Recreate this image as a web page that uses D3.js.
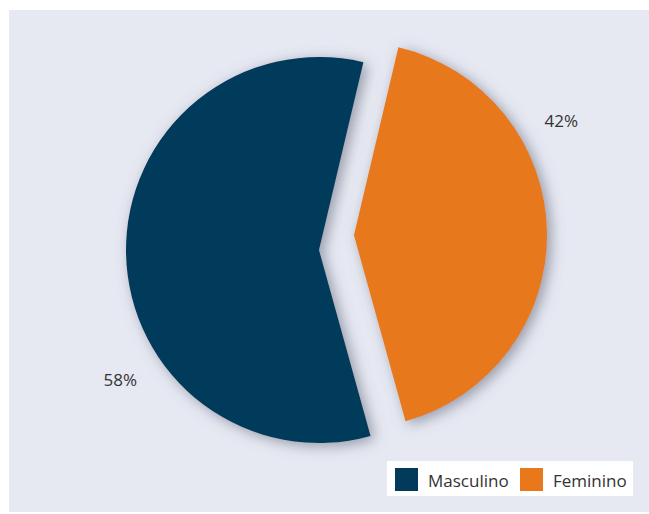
<!DOCTYPE html>
<html>
<head>
<meta charset="utf-8">
<script src="https://cdn.jsdelivr.net/npm/d3@7"></script>
<style>
  html, body { margin: 0; padding: 0; background: #ffffff; }
  svg { display: block; }
</style>
</head>
<body>
<script>
// Gender split
const categories = ["Masculino", "Feminino"];
const values = [58, 42];
const valueLabels = ["58%", "42%"];
const colors = ["#023a5b", "#e8781a"];

const W = 649, H = 514;
const svg = d3.select("body").append("svg").attr("width", W).attr("height", H);

// Panel background
svg.append("rect")
  .attr("x", 9).attr("y", 10)
  .attr("width", W - 9).attr("height", H - 12)
  .attr("fill", "#e6e9f2");

// Soft shadow under the slices
const defs = svg.append("defs");
const f = defs.append("filter").attr("id", "shadow")
  .attr("x", "-20%").attr("y", "-20%").attr("width", "140%").attr("height", "140%");
f.append("feDropShadow")
  .attr("dx", 4).attr("dy", 3).attr("stdDeviation", 7)
  .attr("flood-color", "#5d6274").attr("flood-opacity", 0.6);

const cx = 319, cy = 250, radius = 193;
const explode = [0, 38];                  // px pulled out per slice
const explodeAngle = 67 * Math.PI / 180;  // direction of pull (0 = up, clockwise)
const offset = i => [Math.sin(explodeAngle) * explode[i], -Math.cos(explodeAngle) * explode[i]];

const pie = d3.pie().sort(null)
  .startAngle(164.5 * Math.PI / 180)
  .endAngle((164.5 + 360) * Math.PI / 180);
const arcs = pie(values);
const arc = d3.arc().innerRadius(0).outerRadius(radius);

const g = svg.append("g").attr("transform", `translate(${cx},${cy})`);

g.selectAll("path.slice")
  .data(arcs)
  .join("path")
  .attr("class", "slice")
  .attr("d", arc)
  .attr("fill", (d, i) => colors[i])
  .attr("filter", "url(#shadow)")
  .attr("transform", (d, i) => `translate(${offset(i)[0]},${offset(i)[1]})`);

// Percentage labels placed outside the slices
const labelRadius = 237;
const labelAngles = [237 * Math.PI / 180, 61 * Math.PI / 180];
g.selectAll("text.pct")
  .data(arcs)
  .join("text")
  .attr("class", "pct")
  .attr("x", (d, i) => offset(i)[0] + Math.sin(labelAngles[i]) * labelRadius)
  .attr("y", (d, i) => offset(i)[1] - Math.cos(labelAngles[i]) * labelRadius)
  .attr("text-anchor", "middle")
  .attr("dominant-baseline", "central")
  .attr("font-family", "'Open Sans', 'Noto Sans', sans-serif")
  .attr("font-size", 17)
  .attr("fill", "#333333")
  .text((d, i) => valueLabels[i]);

// Legend
const lg = svg.append("g").attr("transform", "translate(387,461)");
lg.append("rect").attr("width", 246).attr("height", 35).attr("fill", "#ffffff");
const items = lg.selectAll("g.item")
  .data(categories)
  .join("g")
  .attr("class", "item")
  .attr("transform", (d, i) => `translate(${8 + i * 125},7)`);
items.append("rect")
  .attr("width", 23).attr("height", 23)
  .attr("fill", (d, i) => colors[i]);
items.append("text")
  .attr("x", 33).attr("y", 12)
  .attr("dominant-baseline", "central")
  .attr("font-family", "'Open Sans', 'Noto Sans', sans-serif")
  .attr("font-size", 17)
  .attr("fill", "#333333")
  .text(d => d);
</script>
</body>
</html>
